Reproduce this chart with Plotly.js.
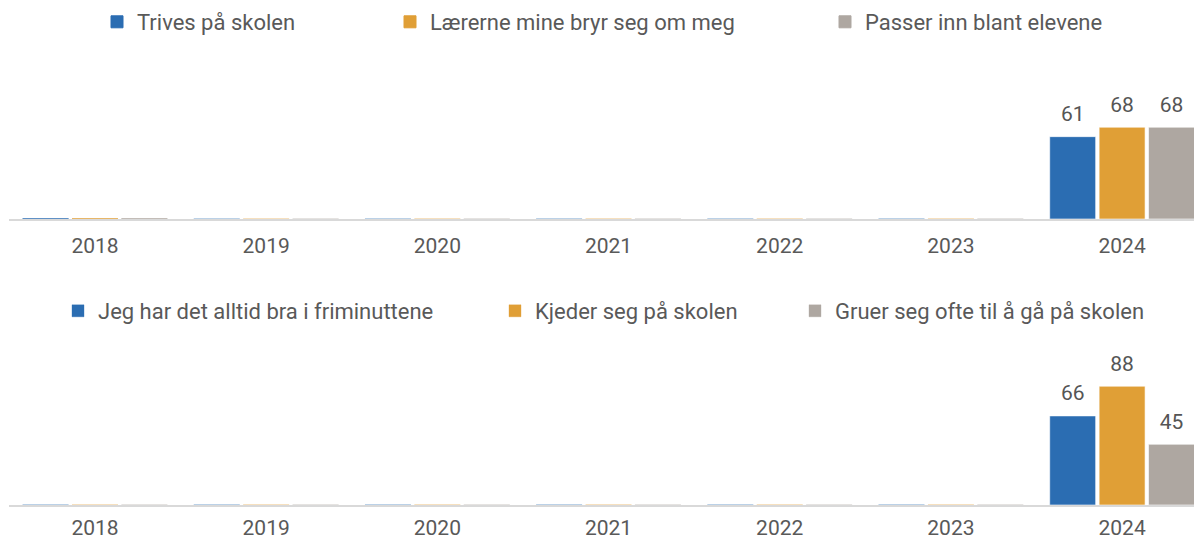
<!DOCTYPE html>
<html>
<head>
<meta charset="utf-8">
<script src="https://cdn.plot.ly/plotly-3.0.1.min.js"></script>
<style>html,body{margin:0;padding:0;background:#fff}#chart{width:1194px;height:541px}</style>
</head>
<body>
<div id="chart"></div>
<script>
const years = ['2018','2019','2020','2021','2022','2023','2024'];
const seriesTop = ['Trives på skolen','Lærerne mine bryr seg om meg','Passer inn blant elevene'];
const seriesBottom = ['Jeg har det alltid bra i friminuttene','Kjeder seg på skolen','Gruer seg ofte til å gå på skolen'];
const top1 = [0,0,0,0,0,0,61];
const top2 = [0,0,0,0,0,0,68];
const top3 = [0,0,0,0,0,0,68];
const bot1 = [0,0,0,0,0,0,66];
const bot2 = [0,0,0,0,0,0,88];
const bot3 = [0,0,0,0,0,0,45];
const colors = ['#2B6DB2','#E09F36','#AEA7A1'];
const faint = ['rgba(43,109,178,0.35)','rgba(224,159,54,0.35)','rgba(174,167,161,0.35)'];

function mk(name, vals, i, xa, ya, leg, firstStrong){
  return {
    type:'bar', name:name, x:years, y:vals, xaxis:xa, yaxis:ya, legend:leg,
    marker:{color:colors[i], line:{width:1, color: vals.map((v,k)=> (k===0 && firstStrong) ? colors[i] : (v>0 ? 'rgba(255,255,255,0.6)' : faint[i]))}},
    texttemplate: vals.map(v => v>0 ? '<span style="font-size:21px">%{y}</span><br> ' : ''),
    textposition:'outside', textfont:{family:'Roboto, sans-serif', size:8, color:'#555555'}, cliponaxis:false, hoverinfo:'skip'
  };
}
const data = [
  mk(seriesTop[0], top1, 0, 'x','y','legend', true),
  mk(seriesTop[1], top2, 1, 'x','y','legend2', true),
  mk(seriesTop[2], top3, 2, 'x','y','legend3', true),
  mk(seriesBottom[0], bot1, 0, 'x2','y2','legend4', false),
  mk(seriesBottom[1], bot2, 1, 'x2','y2','legend5', false),
  mk(seriesBottom[2], bot3, 2, 'x2','y2','legend6', false)
];
const W = 1194, H = 541;
const xdom = [9.4/W, 1];
const xax = {type:'category', domain:xdom, range:[-0.5,6.42], showline:true, linecolor:'#D9D9D9', linewidth:2, showgrid:false, zeroline:false, ticks:'', ticklabelstandoff:7, tickfont:{family:'Roboto, sans-serif', size:21, color:'#595959'}, automargin:false, fixedrange:true};
const yax = {range:[0,100], showgrid:false, zeroline:false, showticklabels:false, showline:false, automargin:false, fixedrange:true};
function leg(xpx, ypx){
  return {x:xpx/W, y:1-ypx/H, xanchor:'left', yanchor:'middle', orientation:'h', bgcolor:'rgba(0,0,0,0)', font:{family:'Roboto, sans-serif', size:22, color:'#595959'}, itemwidth:30, itemclick:false, itemdoubleclick:false};
}
const sq = [117, 410, 845, 78, 515, 815];
const dx = -20;
const layout = {
  width:W, height:H, margin:{l:0,r:0,t:0,b:0}, paper_bgcolor:'#fff', plot_bgcolor:'#fff',
  barmode:'group', bargap:0.134, bargroupgap:0.07,
  xaxis: Object.assign({}, xax, {anchor:'y'}),
  yaxis: Object.assign({}, yax, {domain:[1-219/H, 1-84/H], anchor:'x'}),
  xaxis2: Object.assign({}, xax, {anchor:'y2', ticklabelstandoff:3}),
  yaxis2: Object.assign({}, yax, {domain:[1-505/H, 1-370/H], anchor:'x2'}),
  legend: leg(sq[0]+dx, 22), legend2: leg(sq[1]+dx, 22), legend3: leg(sq[2]+dx, 22),
  legend4: leg(sq[3]+dx, 311), legend5: leg(sq[4]+dx, 311), legend6: leg(sq[5]+dx, 311),
  showlegend:true
};
Plotly.newPlot('chart', data, layout, {displayModeBar:false, staticPlot:true});
</script>
</body>
</html>
